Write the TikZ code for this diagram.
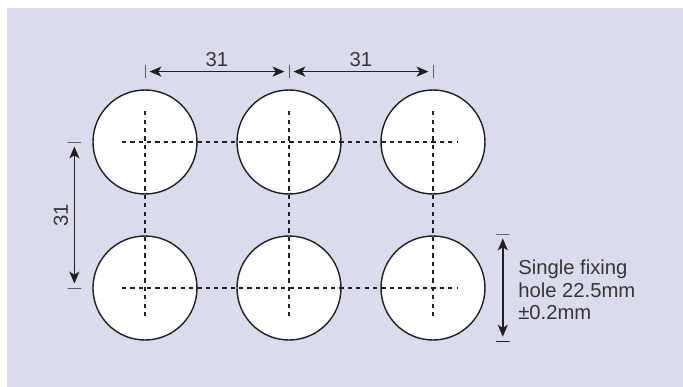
\documentclass[tikz,border=0pt]{standalone}
\usepackage{fontspec}
\setmainfont{Liberation Sans}
\usetikzlibrary{arrows.meta}
\definecolor{panel}{HTML}{DADBED}
\definecolor{ink}{HTML}{231F20}
\tikzset{
hole/.style={shape=circle, draw=ink, fill=white, line width=1pt, minimum size=2.6cm, inner sep=0pt},
vtick/.style={shape=rectangle, draw=ink, line width=0.6pt, minimum width=0pt, minimum height=0.33cm, inner sep=0pt},
htick/.style={shape=rectangle, draw=ink, line width=0.6pt, minimum height=0pt, minimum width=0.34cm, inner sep=0pt},
dim/.style={draw=ink, line width=1pt, {Stealth[length=0.3cm,width=0.25cm,inset=0.08cm]}-{Stealth[length=0.3cm,width=0.25cm,inset=0.08cm]}, shorten <=0.1cm, shorten >=0.1cm},
centre/.style={draw=ink, line width=0.85pt, dash pattern=on 3pt off 2.95pt},
label/.style={text=ink!90, font=\fontsize{14.4}{16}\selectfont, inner sep=0pt}
}

\begin{document}
\begin{tikzpicture}
    \useasboundingbox (0,0) rectangle (17.075,-9.675);
    \fill[panel] (0.175,-0.2) rectangle (17.075,-9.675);

    \node[hole] (A) at (3.625,-3.55) {};
    \node[hole] (B) at (7.225,-3.55) {};
    \node[hole] (C) at (10.825,-3.55) {};
    \node[hole] (D) at (3.625,-7.2) {};
    \node[hole] (E) at (7.225,-7.2) {};
    \node[hole] (F) at (10.825,-7.2) {};

    % centre lines
    \coordinate (R1a) at (3.05,-3.55);
    \coordinate (R1b) at (11.45,-3.55);
    \coordinate (R2a) at (3.05,-7.2);
    \coordinate (R2b) at (11.45,-7.2);
    \coordinate (C1a) at (3.625,-2.78);
    \coordinate (C1b) at (3.625,-7.93);
    \coordinate (C2a) at (7.225,-2.78);
    \coordinate (C2b) at (7.225,-7.93);
    \coordinate (C3a) at (10.825,-2.78);
    \coordinate (C3b) at (10.825,-7.93);
    \draw[centre] (R1a) -- (R1b);
    \draw[centre] (R2a) -- (R2b);
    \draw[centre] (C1a) -- (C1b);
    \draw[centre] (C2a) -- (C2b);
    \draw[centre] (C3a) -- (C3b);

    % dimensions
    \node[vtick] (T1) at (3.625,-1.79) {};
    \node[vtick] (T2) at (7.225,-1.79) {};
    \node[vtick] (T3) at (10.825,-1.79) {};
    \node[htick] (L1) at (1.86,-3.55) {};
    \node[htick] (L2) at (1.86,-7.2) {};
    \node[htick] (S1) at (12.57,-5.85) {};
    \node[htick] (S2) at (12.57,-8.53) {};

    \draw[dim] (T1) -- (T2) node[midway, above=0.1cm, label] (N1) {31};
    \draw[dim] (T2) -- (T3) node[midway, above=0.1cm, label] (N2) {31};
    \draw[dim] (L1) -- (L2) node[midway, left=0.14cm, label, rotate=90, anchor=south] (N3) {31};
    \draw[dim] (S1) -- (S2);

    \node[label, anchor=west, align=left] (N4) at (12.95,-7.25) {Single fixing\\hole 22.5mm\\±0.2mm};
\end{tikzpicture}
\end{document}
